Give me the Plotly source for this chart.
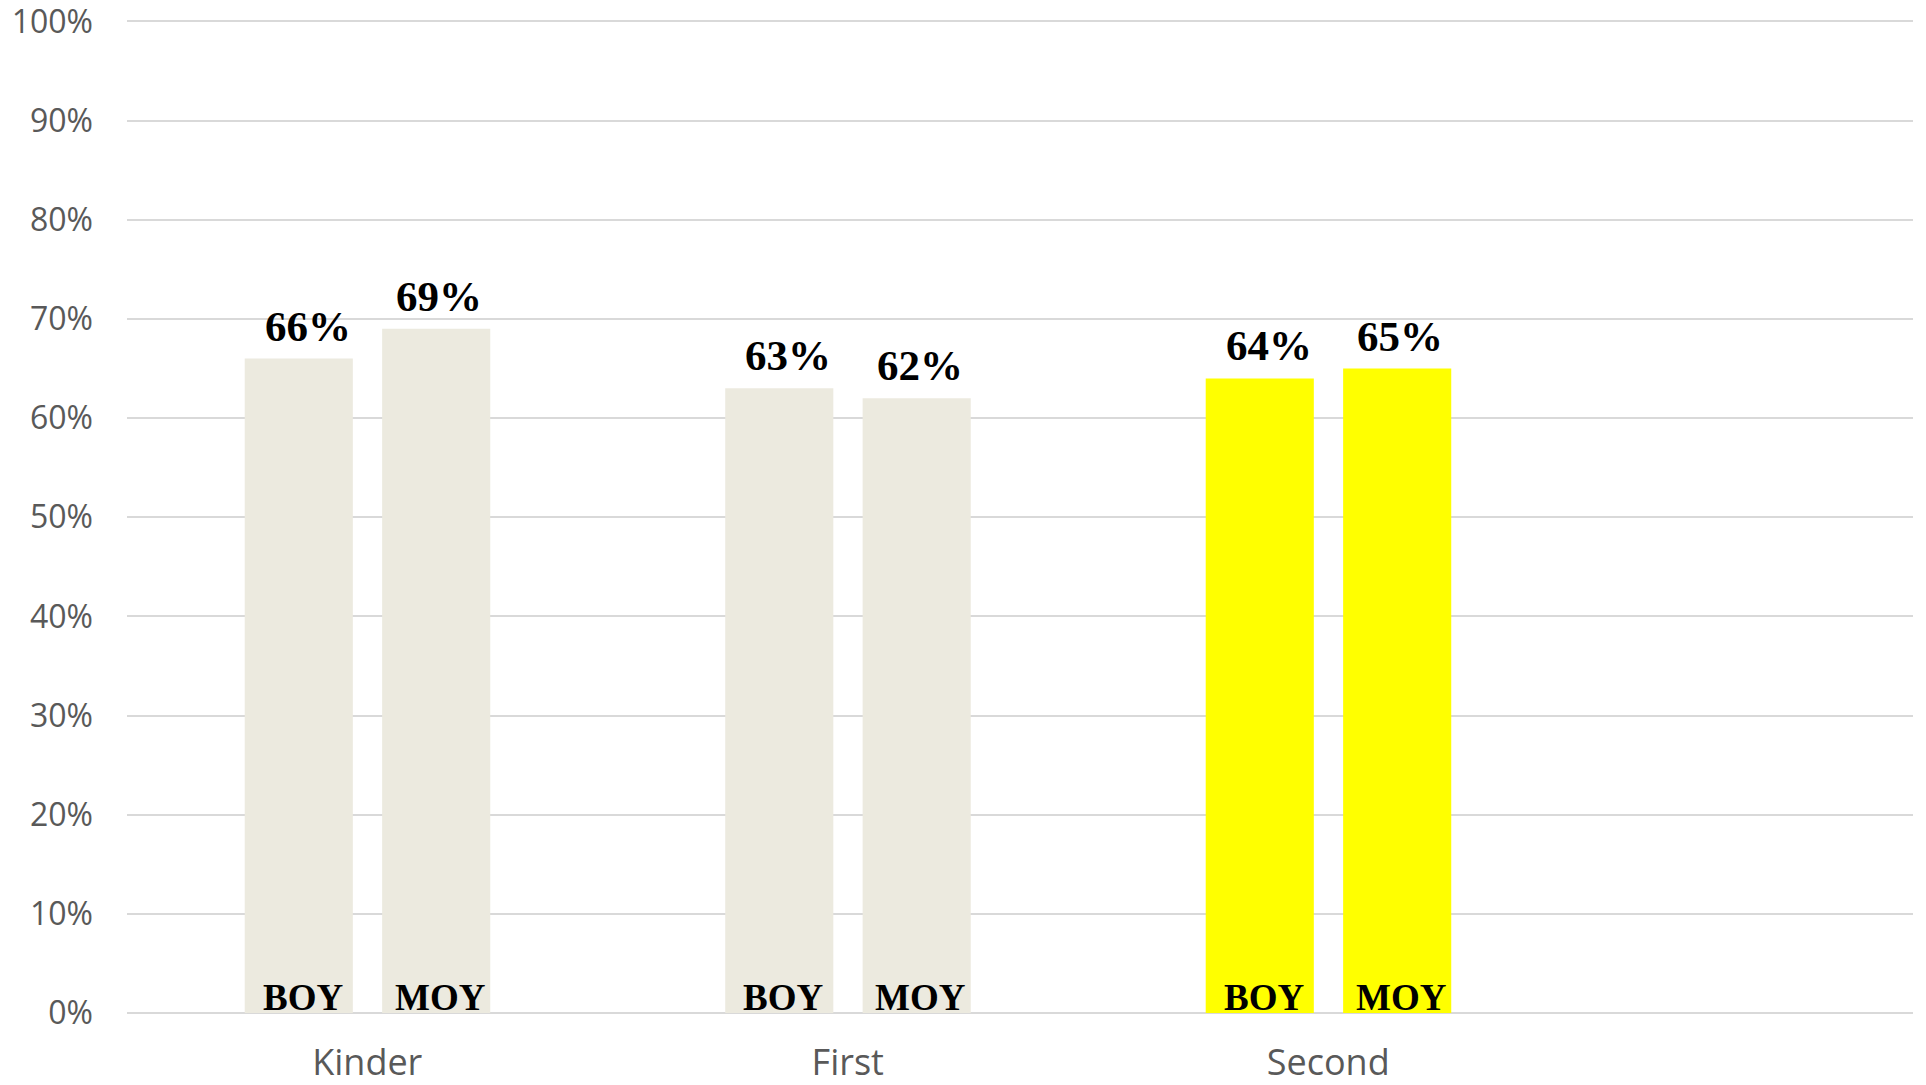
import plotly.graph_objects as go

categories = ["Kinder", "First", "Second"]
series_names = ["BOY", "MOY"]
boy_values = [0.66, 0.63, 0.64]
moy_values = [0.69, 0.62, 0.65]
bar_colors = ["#ECEADF", "#ECEADF", "#FFFF00"]
y_ticks = [i / 10 for i in range(11)]

BAR_W = 0.225
OFFSETS = {"BOY": -0.255, "MOY": 0.031}
VAL_XSHIFT = {"BOY": 9, "MOY": 3}

x_idx = list(range(len(categories)))
fig = go.Figure()
for name, vals in zip(series_names, [boy_values, moy_values]):
    fig.add_trace(go.Bar(
        x=x_idx, y=vals, name=name, width=BAR_W, offset=OFFSETS[name],
        marker=dict(color=bar_colors, line=dict(width=0)),
        hoverinfo="skip", showlegend=False,
    ))

val_font = dict(family="Liberation Serif", size=43, color="black")
lab_font = dict(family="Liberation Serif", size=37, color="black")
for name, vals in zip(series_names, [boy_values, moy_values]):
    for i, v in zip(x_idx, vals):
        xc = i + OFFSETS[name] + BAR_W / 2
        fig.add_annotation(x=xc, y=v, text=f"<b>{round(v*100)}%</b>", showarrow=False,
                           yanchor="bottom", xanchor="center", yshift=7,
                           xshift=VAL_XSHIFT[name], font=val_font)
        fig.add_annotation(x=xc, y=0, text=f"<b>{name}</b>", showarrow=False,
                           yanchor="bottom", xanchor="center", yshift=-7, xshift=4,
                           font=lab_font)

fig.update_layout(
    width=1926, height=1085,
    margin=dict(l=127, r=13, t=20, b=72, autoexpand=False),
    plot_bgcolor="white", paper_bgcolor="white",
    xaxis=dict(range=[-0.5, 3.217], tickvals=x_idx, ticktext=categories,
               showgrid=False, zeroline=False, showline=False, ticks="",
               automargin=False, ticklabelstandoff=25, ticklabeloverflow="allow",
               tickfont=dict(family="Open Sans", size=36, color="#595959")),
    yaxis=dict(range=[0, 1.0015], tickvals=y_ticks, tickformat=".0%",
               showgrid=True, gridcolor="#D9D9D9", gridwidth=2,
               zeroline=True, zerolinecolor="#D9D9D9", zerolinewidth=2,
               showline=False, ticks="", ticklabelstandoff=33, automargin=False,
               ticklabeloverflow="allow",
               tickfont=dict(family="Open Sans", size=32, color="#595959")),
)
fig.write_html("out.html", config={"displayModeBar": False},
               post_script="document.body.style.margin='0';document.body.style.overflow='hidden';")
